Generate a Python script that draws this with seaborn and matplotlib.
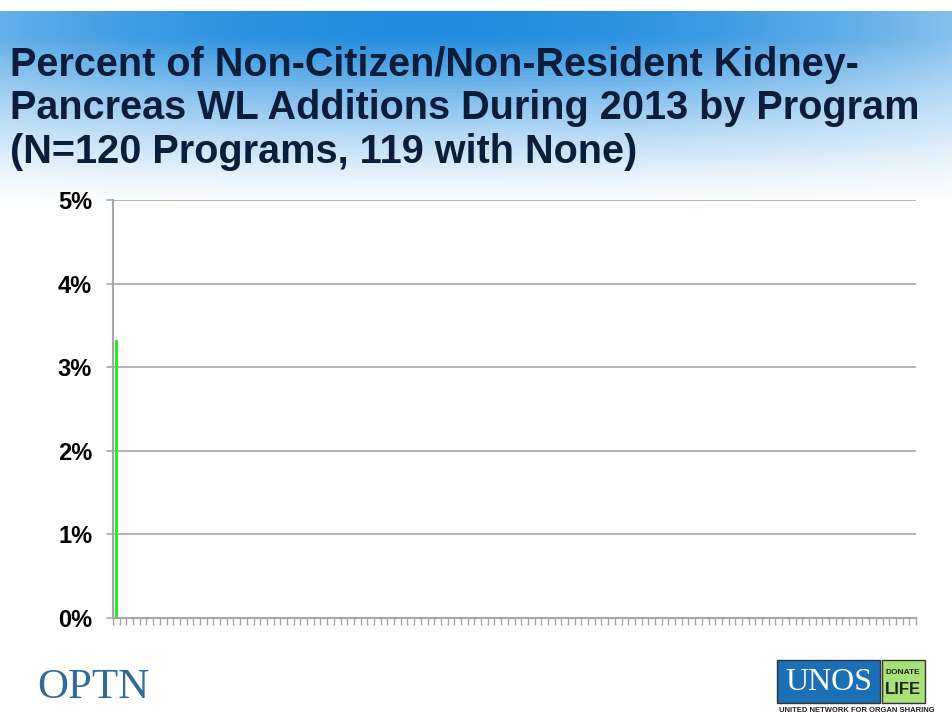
import numpy as np
import pandas as pd
import seaborn as sns
import matplotlib.pyplot as plt
from matplotlib.patches import Rectangle

# data: 120 programs, only one with non-citizen/non-resident additions
programs = [f"P{i:03d}" for i in range(1, 121)]
pct = [3.33] + [0.0] * 119
y_ticks = [0, 1, 2, 3, 4, 5]
y_labels = ["0%", "1%", "2%", "3%", "4%", "5%"]
title = ("Percent of Non-Citizen/Non-Resident Kidney-\n"
         "Pancreas WL Additions During 2013 by Program\n"
         "(N=120 Programs, 119 with None)")

df = pd.DataFrame({"program": programs, "pct": pct})

sns.set_style("white")
plt.rcParams['font.family'] = ['Liberation Sans', 'DejaVu Sans']

fig = plt.figure(figsize=(9.52, 7.15), dpi=100)

# header gradient background
bg = fig.add_axes([0, 0, 1, 1], zorder=-10)
h, w = 200, 300
yy = np.linspace(0, 1, h)[:, None]
xx = np.linspace(0, 1, w)[None, :]
strength = np.clip(1 - (yy - 0.05) / 0.24, 0, 1) ** 1.3
strength = strength * (1 - 0.5 * np.abs(xx - 0.45) ** 2 * 3)
strength = np.clip(strength, 0, 1)
strength[yy[:, 0] < 0.014, :] = 0
blue = np.array([0.13, 0.55, 0.87])
img = 1 - strength[..., None] * (1 - blue)
bg.imshow(img, extent=[0, 1, 0, 1], aspect="auto", origin="upper")
bg.axis("off")

fig.text(0.011, 1 - 46 / 715, title, fontsize=28.5, fontweight="bold", color="#0b1d3a",
         va="top", ha="left", linespacing=1.18)

ax = fig.add_axes([113 / 952, 1 - 618 / 715, (916 - 113) / 952, (618 - 200) / 715])
sns.barplot(data=df, x="program", y="pct", color="#22ee22", width=0.5,
            saturation=1, linewidth=0, ax=ax)
ax.set_xlim(-0.5, 119.5)
ax.set_ylim(0, 5)
ax.set_yticks(y_ticks)
ax.set_yticklabels(y_labels, fontsize=17, fontweight="bold", color="black")
ax.set_xticks(np.arange(-0.5, 120, 1))
ax.set_xticklabels([])
ax.tick_params(axis="x", bottom=True, direction="out", length=5, width=1,
               color="#a6a6a6")
ax.tick_params(axis="y", length=0, pad=15)
ax.set_xlabel("")
ax.set_ylabel("")
ax.grid(axis="y", color="#a6a6a6", linewidth=1.2)
ax.set_axisbelow(True)
for s in ["top", "right"]:
    ax.spines[s].set_visible(False)
for s in ["left", "bottom"]:
    ax.spines[s].set_color("#a6a6a6")
    ax.spines[s].set_linewidth(1.5)
# small outward left tick marks for gridlines
for t in y_ticks:
    ax.plot([-0.5 - 0.9, -0.5], [t, t], color="#a6a6a6", lw=1.2, clip_on=False)

# logos
fig.text(37 / 952, 1 - 688 / 715, "OPTN", fontsize=31, family="Liberation Serif",
         color="#2f6b98", va="center", ha="left")
fig.patches.append(Rectangle((777 / 952, 1 - 703 / 715), 103 / 952, 43 / 715,
                             transform=fig.transFigure, facecolor="#1a6fb5",
                             edgecolor="#333333", lw=1))
fig.patches.append(Rectangle((882 / 952, 1 - 703 / 715), 43 / 952, 43 / 715,
                             transform=fig.transFigure, facecolor="#a8e07a",
                             edgecolor="#333333", lw=1))
fig.text(829 / 952, 1 - 682 / 715, "UNOS", fontsize=23, color="white",
         va="center", ha="center", family="Liberation Serif")
fig.text(903 / 952, 1 - 672 / 715, "DONATE", fontsize=6, color="#222222",
         fontweight="bold", va="center", ha="center")
fig.text(903 / 952, 1 - 689 / 715, "LIFE", fontsize=12, color="#222222",
         fontweight="bold", va="center", ha="center")
fig.text(779 / 952, 1 - 714 / 715, "UNITED NETWORK FOR ORGAN SHARING", fontsize=5.5,
         color="#222222", fontweight="bold", va="bottom", ha="left")

fig.savefig("out.png", dpi=100)
